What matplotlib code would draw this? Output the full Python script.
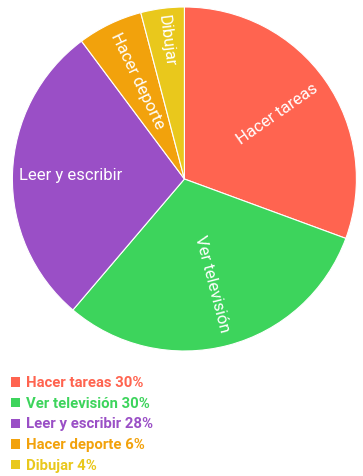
import numpy as np
import matplotlib.pyplot as plt
from matplotlib.patches import Patch

plt.rcParams['font.family'] = ['Roboto', 'DejaVu Sans']

actividades = ['Hacer tareas', 'Ver televisión', 'Leer y escribir', 'Hacer deporte', 'Dibujar']
porcentajes = [30, 30, 28, 6, 4]
colores = ['#FF6450', '#3DD45C', '#9A4FC6', '#F2A20C', '#E9C81C']

# radial position of each slice label (fraction of radius)
label_r = [0.66, 0.63, 0.66, 0.63, 0.81]

fig = plt.figure(figsize=(3.63, 4.76), dpi=100)
ax = fig.add_axes([0.028, 0.2626, 0.96, 0.7227])

wedges, _ = ax.pie(porcentajes, colors=colores, startangle=90, counterclock=False,
                   radius=1.0, wedgeprops=dict(edgecolor='white', linewidth=0.8))
ax.set_xlim(-1, 1)
ax.set_ylim(-1, 1)
ax.set_aspect('equal')
ax.axis('off')

for w, name, r in zip(wedges, actividades, label_r):
    ang = (w.theta1 + w.theta2) / 2.0
    x = r * np.cos(np.deg2rad(ang))
    y = r * np.sin(np.deg2rad(ang))
    rot = ang
    if rot > 90:
        rot -= 180
    if rot < -90:
        rot += 180
    if name == 'Leer y escribir':
        rot = 0
    ax.text(x, y, name, color='white', fontsize=12, rotation=rot,
            rotation_mode='anchor', ha='center', va='center')

handles = [Patch(facecolor=c, edgecolor='none') for c in colores]
labels = [f'{a} {p}%' for a, p in zip(actividades, porcentajes)]
leg = fig.legend(handles, labels, loc='upper left', bbox_to_anchor=(-0.007, 0.238),
                 frameon=False, handlelength=0.6, handleheight=0.6, handletextpad=0.4,
                 labelspacing=0.45, prop=dict(size=10.7, weight='bold'))
for txt, c in zip(leg.get_texts(), colores):
    txt.set_color(c)

fig.savefig('out.png', dpi=100)
